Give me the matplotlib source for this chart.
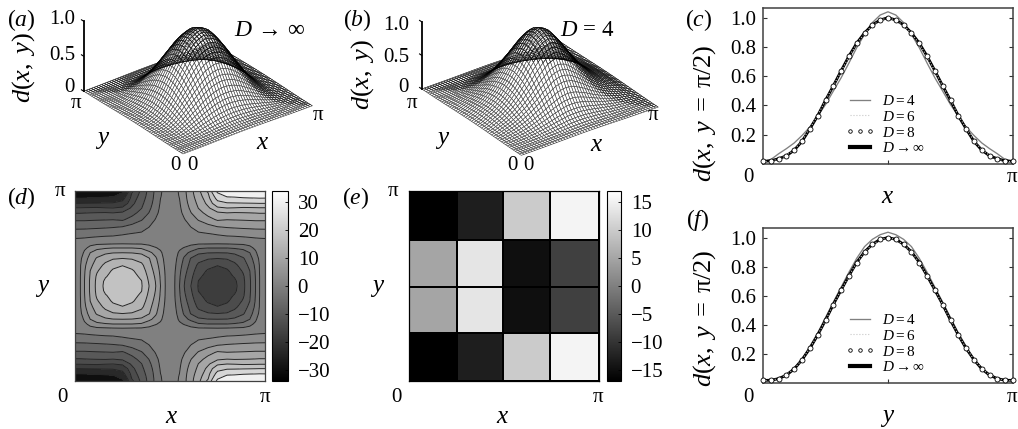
import numpy as np
import matplotlib
matplotlib.use("Agg")
import matplotlib.pyplot as plt
from matplotlib.colors import Normalize
from matplotlib.cm import ScalarMappable

plt.rcParams['font.family'] = ['Liberation Serif', 'DejaVu Sans']
plt.rcParams['mathtext.fontset'] = 'custom'
plt.rcParams['mathtext.rm'] = 'Liberation Serif'
plt.rcParams['mathtext.it'] = 'Liberation Serif:italic'
plt.rcParams['mathtext.fallback'] = 'stix'

W, H = 1018, 429
PI = np.pi

# half profiles from 0 to pi/2 (c) and (f), 33 points once mirrored
c_d4 = [.018, .03, .07, .105, .144, .195, .253, .327, .406, .498, .589, .69, .795, .886, .966, 1.018, 1.04]
c_d6 = [.015, .02, .034, .058, .098, .158, .243, .332, .436, .533, .635, .733, .822, .893, .948, .982, 1.0]
c_d8 = [.018, .023, .037, .057, .096, .155, .24, .329, .434, .532, .635, .735, .824, .895, .95, .982, 1.0]
c_inf = [.018, .022, .036, .056, .095, .155, .24, .33, .435, .534, .637, .737, .826, .896, .951, .984, 1.0]

f_d4 = [.018, .02, .03, .06, .103, .165, .252, .344, .45, .556, .659, .762, .858, .938, .988, 1.02, 1.037]
f_d6 = [.016, .018, .031, .056, .099, .161, .24, .331, .432, .54, .64, .737, .829, .9, .952, .986, 1.0]
f_d8 = [.018, .018, .03, .055, .098, .16, .238, .33, .43, .538, .638, .737, .828, .9, .953, .988, 1.0]
f_inf = [.018, .019, .03, .054, .097, .16, .238, .33, .432, .54, .64, .738, .83, .902, .954, .988, 1.0]

# half profiles for the two surfaces, 51 mesh lines once mirrored
surf_inf = [.012, .02, .026, .035, .046, .062, .088, .124, .165, .22, .275, .334, .40, .468, .53, .595, .66, .72,
            .78, .835, .882, .925, .955, .975, .99, 1.0]
surf_d4_x = [.012, .026, .041, .067, .09, .113, .136, .169, .202, .239, .28, .33, .38, .431, .495, .553, .613, .68,
             .75, .81, .868, .921, .972, 1.003, 1.026, 1.04]
surf_d4_y = [.012, .019, .024, .029, .044, .068, .097, .135, .175, .23, .287, .347, .415, .484, .55, .615, .68, .75,
             .81, .87, .922, .96, .992, 1.01, 1.03, 1.037]

# panel (d): one quadrant of the field, one list per x, knots are in units of pi
d_x = [0, .03, .05, .08, .115, .16, .2, .25, .3, .35, .39, .425, .45, .475, .5]
d_y = [0, .012, .025, .04, .065, .09, .115, .15, .19, .225, .25, .278, .3, .325, .355, .39, .42, .45, .475, .5]
d_columns = [
    [-32, -30.2, -28, -25.6, -20, -14.9, -12.1, -9, -5.9, -3.4, -1.7, -1.1, -.9, -.7, -.5, -.3, -.2, -.1, -.05, 0],
    [-32.5, -30.5, -28.3, -25.6, -20, -14.9, -12.1, -9, -5.9, -3.3, -1.6, -.8, -.4, 0, 1.2, 1.72, 1.75, 1.8, 1.8, 1.8],
    [-33, -31, -28.5, -25.4, -19.9, -14.8, -12, -9, -5.9, -3.2, -1.5, -.4, 1, 2.4, 3.6, 4.4, 4.8, 5, 5.1, 5.1],
    [-33.5, -31.5, -28.6, -25.2, -19.8, -14.7, -11.9, -8.9, -5.8, -3, -1.3, .8, 2.7, 5.1, 6.3, 7.5, 8.5, 8.8, 9, 9],
    [-33.5, -31.2, -28.2, -25, -19.7, -14.6, -11.8, -8.8, -5.7, -2.8, -1.1, 1.2, 4.4, 6.5, 8.9, 10.3, 11.5, 12.4, 12.7, 12.8],
    [-32.5, -30, -27.2, -24.7, -19.5, -15, -11.7, -8.7, -5.5, -2.6, -.9, 1.4, 4.8, 7.9, 10.6, 12.7, 13.8, 15, 16, 16.3],
    [-31, -29, -27, -24.4, -19.4, -15.2, -11.9, -8.6, -5.3, -2.4, -.9, 1.6, 5.1, 8.4, 11.6, 14.2, 15.8, 16.5, 16.9, 17],
    [-27.5, -25.6, -23.4, -21.5, -18.2, -14.5, -11.4, -9, -4.9, -2, -.7, 1.7, 5.1, 8.5, 11.9, 15.2, 16.1, 16.8, 17.1, 17.2],
    [-16.2, -15, -14.4, -13.8, -12.8, -11.3, -9.8, -7.2, -3.9, -1.6, -.6, 1.6, 5.1, 8.4, 11.6, 14.2, 15.7, 16.4, 16.8, 17],
    [-11, -10.8, -10.5, -10, -9.3, -8.6, -7.2, -5.4, -2.9, -1.3, -.5, 1.5, 4.7, 7.9, 10.6, 12.6, 13.7, 14.7, 15.4, 15.6],
    [-7.4, -7.3, -7.1, -6.9, -6.4, -5.8, -5, -3.4, -1.7, -.9, -.5, 1.1, 3, 6, 8.7, 9.6, 10.3, 11, 11.5, 11.9],
    [-4.2, -4.2, -4.1, -4, -3.7, -3.2, -2.5, -1.5, -.9, -.6, -.4, .6, 1.9, 3.9, 5.6, 6.5, 7.3, 7.9, 8.3, 8.5],
    [-2.1, -2, -1.9, -1.7, -1.4, -1.1, -.9, -.7, -.5, -.3, -.2, .5, 1.2, 2.2, 3, 3.8, 4.3, 4.7, 4.9, 5.1],
    [-.7, -.7, -.65, -.6, -.5, -.45, -.4, -.3, -.2, -.15, -.1, .1, .3, .5, .8, 1.1, 1.4, 1.6, 1.65, 1.7],
    [0, 0, 0, 0, 0, 0, 0, 0, 0, 0, 0, 0, 0, 0, 0, 0, 0, 0, 0, 0],
]
d_levels = [-34, -26, -20, -15.3, -11.9, -8.5, -5.1, -1.7, 1.7, 5.1, 8.5, 11.9, 15.3, 20, 26, 34]
d_ticks = [-30, -20, -10, 0, 10, 20, 30]

# panel (e): 4 x 4 cells, first row is the bottom one
e_edges = [0, .2526, .495, .744, 1]
e_values = [
    [-17, -13, 10, 15.5],
    [5, 13.5, -15, -8.5],
    [5, 13.5, -15, -8.5],
    [-17, -13, 10, 15.5],
]
e_ticks = [-15, -10, -5, 0, 5, 10, 15]

fig = plt.figure(figsize=(W / 100, H / 100), dpi=100)


def px_axes(x0, y0, x1, y1, **kw):
    # pixel box measured from the top left of the picture
    return fig.add_axes([x0 / W, 1 - y1 / H, (x1 - x0) / W, (y1 - y0) / H], **kw)


def label(x, y, s, size=15, **kw):
    fig.text(x / W, 1 - y / H, s, fontsize=size, ha=kw.pop('ha', 'center'), va=kw.pop('va', 'center'), **kw)


def mirror(half):
    half = np.array(half)
    return np.concatenate([half, half[-2::-1]])


def surface(cx, cy, side, az, aspect, px, py):
    ax = px_axes(cx - .5135 * side, cy - (1 - .5135) * side, cx + (1 - .5135) * side, cy + .5135 * side,
                 projection='3d')
    ax.set_proj_type('ortho')
    ax.view_init(elev=29, azim=az)
    ax.set_box_aspect(aspect)
    ax.computed_zorder = False
    ax.patch.set_alpha(0)
    mesh = np.linspace(0, PI, len(px) * 2 - 1)
    X, Y = np.meshgrid(mesh, mesh, indexing='ij')
    Z = np.outer(mirror(px), mirror(py)) / max(px)
    ax.plot_surface(X, Y, Z, rstride=1, cstride=1, color='white', edgecolor='#404040', linewidth=.42,
                    shade=False, antialiased=True, zorder=1)
    # dark crown: back half and cap are seen through
    back = np.where((X + Y > PI - .01) | (Z > .7), Z, np.nan)
    ax.plot_wireframe(X, Y, back, rstride=1, cstride=1, color='black', linewidth=.22, zorder=2)
    ax.plot([0, 0], [PI, PI], [0, 1], color='black', lw=1.3, zorder=3)
    for t in [0, .5, 1]:
        ax.plot([0, 0], [PI, PI + .07], [t, t], color='black', lw=.8, zorder=3)
    ax.set_xlim(0, PI, view_margin=0)
    ax.set_ylim(0, PI, view_margin=0)
    ax.set_zlim(0, 1, view_margin=0)
    ax.set_axis_off()
    return ax


def profile(box, grid, d4, d6, d8, inf):
    ax = px_axes(*box)
    ax.plot(grid, mirror(d4), color='#808080', lw=.95, label='$D=4$', zorder=2)
    ax.plot(grid, mirror(inf), color='black', lw=2.0, label=r'$D\rightarrow\infty$', zorder=3)
    ax.plot(grid, mirror(d6), color='#c8c8c8', lw=.8, ls=':', label='$D=6$', zorder=4)
    ax.plot(grid, mirror(d8), ls='none', marker='o', ms=3.6, mfc='white', mec='black', mew=.6,
            label='$D=8$', zorder=5, clip_on=False)
    ax.set_xlim(0, PI)
    ax.set_ylim(0, 1.066)
    ax.set_xticks([PI / 2])
    ax.set_xticklabels([])
    ax.set_yticks([.2, .4, .6, .8, 1.0])
    ax.tick_params(direction='in', length=3, width=.8, top=False, right=True, labelsize=15, pad=5, color='#303030')
    for sp in ax.spines.values():
        sp.set_linewidth(1.1)
        sp.set_color('#404040')
    h, l = ax.get_legend_handles_labels()
    order = [0, 2, 3, 1]
    leg = ax.legend([h[i] for i in order], [l[i] for i in order], frameon=False, fontsize=11, numpoints=3,
                    handlelength=1.9, handletextpad=.5, labelspacing=.12, markerscale=.7,
                    loc='lower left', bbox_to_anchor=(.33, .055), borderpad=0, borderaxespad=0)
    leg.legend_handles[3].set_linewidth(3)
    return ax


# top left surfaces
surface(198, 63.5, 237, -127.5, (163, 163, 80), surf_inf, surf_inf)
surface(540, 64.5, 244, -126, (169, 169, 76.6), surf_d4_x, surf_d4_y)

# contour panel
xq = np.array(d_x) * PI
yq = np.array(d_y) * PI
q = np.array(d_columns, dtype=float).T
left = np.vstack([q, q[-2::-1]])
field = np.hstack([left, -left[:, -2::-1]])
xs = np.concatenate([xq, PI - xq[-2::-1]])
ys = np.concatenate([yq, PI - yq[-2::-1]])

ax_d = px_axes(75, 191, 265, 381)
norm_d = Normalize(-34, 34)
ax_d.contourf(xs, ys, field, levels=d_levels, cmap='gray', norm=norm_d)
ax_d.contour(xs, ys, field, levels=d_levels[1:-1], colors='#262626', linewidths=.7, linestyles='solid')
ax_d.set_xticks([])
ax_d.set_yticks([])
for sp in ax_d.spines.values():
    sp.set_linewidth(.9)
    sp.set_color('#404040')

cax_d = px_axes(272, 191, 288, 381)
cb = fig.colorbar(ScalarMappable(norm=norm_d, cmap='gray'), cax=cax_d, ticks=d_ticks)
cb.ax.tick_params(direction='in', length=2.5, width=.6, labelsize=15, pad=7)
cb.outline.set_linewidth(.8)

# cell panel
ax_e = px_axes(409, 191, 599, 381)
norm_e = Normalize(-17, 17)
edges = np.array(e_edges) * PI
ax_e.pcolormesh(edges, edges, np.array(e_values), cmap='gray', norm=norm_e, edgecolors='black', linewidth=1.1)
ax_e.set_xticks([])
ax_e.set_yticks([])
for sp in ax_e.spines.values():
    sp.set_linewidth(.9)

cax_e = px_axes(607, 191, 621, 381)
cb = fig.colorbar(ScalarMappable(norm=norm_e, cmap='gray'), cax=cax_e, ticks=e_ticks)
cb.ax.tick_params(direction='in', length=2.5, width=.6, labelsize=15, pad=7)
cb.outline.set_linewidth(.8)

# profiles
grid = np.linspace(0, PI, 33)
profile((763, 8, 1013, 164), grid, c_d4, c_d6, c_d8, c_inf)
profile((763, 228, 1013, 383), grid, f_d4, f_d6, f_d8, f_inf)

# panel letters
for x, y, s in [(21, 20, '($a$)'), (357, 20, '($b$)'), (699, 20, '($c$)'), (21, 198, '($d$)'),
                (356, 198, '($e$)'), (698, 220, '($f$)')]:
    label(x, y, s, 17)

# panel a and b labels
for x, y, s in [(62, 20, '1.0'), (62, 55, '0.5'), (69, 88, '0'), (76, 103, 'π'), (318, 115, 'π'),
                (175, 165, '0'), (192, 165, '0'),
                (396, 25, '1.0'), (396, 57, '0.5'), (403, 88, '0'), (412, 103, 'π'), (653, 115, 'π'),
                (512, 165, '0'), (528, 165, '0')]:
    label(x, y, s, 15)
for x, y, s in [(103, 140, '$y$'), (263, 143, '$x$'), (443, 140, '$y$'), (597, 145, '$x$')]:
    label(x, y, s, 18)
label(24, 68, '$d(x,\\;y)$', 19, rotation=90)
label(363, 75, '$d(x,\\;y)$', 19, rotation=90)
label(270, 30, r'$D\,\rightarrow\,\infty$', 17)
label(587, 30, '$D\\,=\\,4$', 16.5)

# panel d and e labels
for x0, xp, xl, yl in [(62, 265, 172, 43), (396, 598, 503, 378)]:
    label(x0 - 2 if x0 == 62 else x0 - 3, 192, 'π', 15)
    label(x0, 397, '0', 15)
    label(xp, 397, 'π', 15)
    label(xl, 417, '$x$', 18)
    label(yl, 288, '$y$', 18)

# panel c and f labels
for y0, ylab, ch, yc in [(177, 113, '$x$', 197), (398, 318, '$y$', 418)]:
    label(748, y0, '0', 15)
    label(1012, y0, 'π', 15)
    label(888, yc, ch, 18)
    label(705, ylab, '$d(x,\\;y\\;=\\;$π$/2)$', 19, rotation=90)

fig.savefig('out.png', dpi=100)
